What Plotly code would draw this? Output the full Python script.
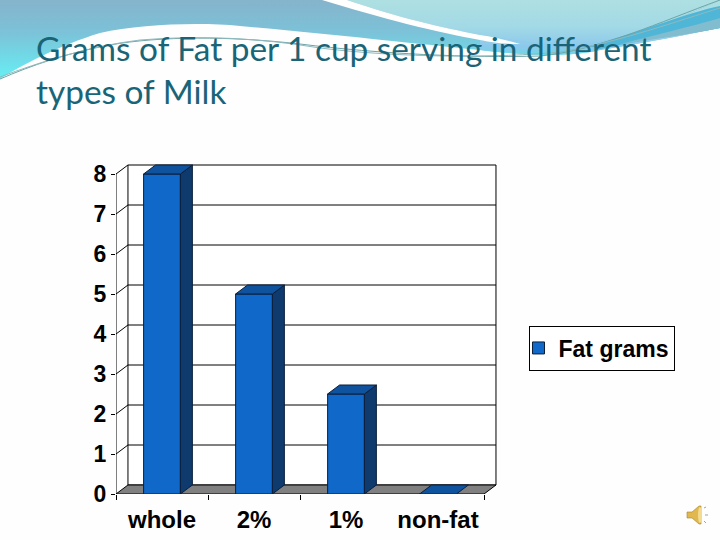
import base64
import plotly.graph_objects as go

categories = ["whole", "2%", "1%", "non-fat"]
fat_grams = [8, 5, 2.5, 0]
y_ticks = [0, 1, 2, 3, 4, 5, 6, 7, 8]
x_tick_marks = [-0.5, 0.5, 1.5, 3.5]

BLUE = "#1068c8"
TOP = "#0f539e"
SIDE = "#0e3a6e"
EDGE = "#0a1f3c"
bar_w = 0.4
# depth of the fake 3d box, in axis units
dx = 0.13
dy = 0.225
x_left = -0.5
x_right = 3.5
x_pos = list(range(len(categories)))

# slide background swoosh, no text in it
bg_svg = """<svg xmlns="http://www.w3.org/2000/svg" width="720" height="540" viewBox="0 0 720 540">
<defs>
<linearGradient id="a" gradientUnits="userSpaceOnUse" x1="0" y1="0" x2="0" y2="80">
<stop offset="0" stop-color="#85b4cc"/><stop offset=".4" stop-color="#7cc2d8"/><stop offset="1" stop-color="#66f0f5"/></linearGradient>
<linearGradient id="b" gradientUnits="userSpaceOnUse" x1="0" y1="0" x2="0" y2="55">
<stop offset="0" stop-color="#aee0e2"/><stop offset=".5" stop-color="#a2d9e6"/><stop offset=".85" stop-color="#8cc8ec"/><stop offset="1" stop-color="#6cd8e6"/></linearGradient>
</defs>
<path d="M0 79 C20 66 60 45 100 33 C140 24 200 22 240 26 C320 33 420 44 480 50 C530 56 570 57 600 50 C650 42 690 34 720 28 L720 0 L0 0 Z" fill="url(#a)"/>
<path d="M347 0 C400 18 440 27 480 35 C540 44 560 48 590 44 C640 34 690 14 720 0 Z" fill="url(#b)"/>
<path d="M480 50 C530 56 570 57 600 50 C650 42 690 34 720 28 L720 0 C690 14 640 34 590 44 C560 48 540 44 480 35 Z" fill="url(#b)"/>
<path d="M322 0 L347 0 C400 18 440 27 480 35 C495 37 505 40 520 44 C500 44 490 42 480 40 C440 33 380 18 322 0 Z" fill="#ffffff"/>
<path d="M590 46 C640 32 690 12 720 6 L720 28 C690 34 650 38 600 49 Z" fill="#4fb6d8"/>
<path d="M620 44 C660 34 700 24 720 18 L720 28 C690 34 650 40 620 44 Z" fill="#82bccf"/>
<path d="M0 79 C30 66 70 52 110 45 C160 36 230 36 300 44 C380 54 470 58 540 56 C600 50 660 22 720 0" fill="none" stroke="#6da5a6" stroke-width="1"/>
<path d="M0 77 C40 62 90 46 140 40 C200 35 260 38 320 48 C400 58 500 58 560 52 C620 42 680 20 720 8" fill="none" stroke="#8fb9bd" stroke-width="1"/>
<g transform="translate(687 505)">
<path d="M0 7 L5 7 L12 1 L14 1 L14 19 L12 19 L5 13 L0 13 Z" fill="#e0b84e" stroke="#a8842c" stroke-width=".6"/>
<ellipse cx="13" cy="10" rx="2" ry="8" fill="#f3dc92"/>
<path d="M17 3 L19 2 M18 10 L21 10 M17 16 L19 18" stroke="#8a8a8a" stroke-width=".8"/>
</g>
</svg>"""
bg_uri = "data:image/svg+xml;base64," + base64.b64encode(bg_svg.encode()).decode()

fig = go.Figure()

# front faces
fig.add_trace(go.Bar(x=x_pos, y=fat_grams, width=bar_w, name="Fat grams",
                     marker=dict(color=BLUE, line=dict(color=EDGE, width=1))))

# side and top faces worked out from the same values
side_x, side_y, top_x, top_y = [], [], [], []
for x, v in zip(x_pos, fat_grams):
    xl = x - bar_w / 2
    xr = x + bar_w / 2
    if v > 0:
        side_x += [xr, xr + dx, xr + dx, xr, xr, None]
        side_y += [0, dy, v + dy, v, 0, None]
    top_x += [xl, xl + dx, xr + dx, xr, xl, None]
    top_y += [v, v + dy, v + dy, v, v, None]
fig.add_trace(go.Scatter(x=side_x, y=side_y, mode="lines", fill="toself", fillcolor=SIDE,
                         line=dict(color=EDGE, width=1), showlegend=False, hoverinfo="skip"))
fig.add_trace(go.Scatter(x=top_x, y=top_y, mode="lines", fill="toself", fillcolor=TOP,
                         line=dict(color=EDGE, width=1), showlegend=False, hoverinfo="skip"))

# left edge of the box, has to sit on the axis so no clipping
fig.add_trace(go.Scatter(x=[x_left, x_left], y=[0, max(y_ticks)], mode="lines", cliponaxis=False,
                         line=dict(color="black", width=1), showlegend=False, hoverinfo="skip"))

shapes = []
# back wall
shapes.append(dict(type="rect", xref="x", yref="y", x0=x_left + dx, x1=x_right + dx,
                   y0=dy, y1=max(y_ticks) + dy, fillcolor="white",
                   line=dict(color="black", width=1), layer="below"))
for k in y_ticks:
    if 0 < k < max(y_ticks):
        shapes.append(dict(type="line", xref="x", yref="y", x0=x_left + dx, x1=x_right + dx,
                           y0=k + dy, y1=k + dy, line=dict(color="black", width=1), layer="below"))
    if k > 0:
        shapes.append(dict(type="line", xref="x", yref="y", x0=x_left, x1=x_left + dx,
                           y0=k, y1=k + dy, line=dict(color="black", width=1), layer="below"))
# floor
shapes.append(dict(type="path", xref="x", yref="y",
                   path="M {} 0 L {} 0 L {} {} L {} {} Z".format(x_left, x_right, x_right + dx, dy, x_left + dx, dy),
                   fillcolor="#808080", line=dict(color="black", width=1), layer="below"))

fig.update_layout(
    width=720, height=540,
    margin=dict(l=116, r=222, t=163, b=46, pad=0, autoexpand=False),
    paper_bgcolor="#fefefe",
    plot_bgcolor="rgba(0,0,0,0)",
    shapes=shapes,
    images=[dict(source=bg_uri, xref="paper", yref="paper",
                 x=-116 / 382, y=1 + 163 / 331, sizex=720 / 382, sizey=540 / 331,
                 xanchor="left", yanchor="top", sizing="stretch", layer="below")],
    title=dict(text="Grams of Fat per 1 cup serving in different<br>types of Milk",
               x=36 / 720, xanchor="left", y=1 - 61 / 540, yanchor="top",
               font=dict(family="Lato", size=33.4, color="#1a6478")),
    showlegend=True,
    legend=dict(x=(528.5 - 116) / 382, xanchor="left", y=(494 - 348) / 331, yanchor="middle",
                indentation=-11,
                bgcolor="white", bordercolor="black", borderwidth=1,
                font=dict(family="Liberation Sans", size=23, color="black", weight=700)),
    bargap=0.6,
)
fig.update_xaxes(range=[x_left, x_right + dx + 0.022], tickmode="array", tickvals=x_pos, ticktext=categories,
                 ticks="", showgrid=False, zeroline=False, showline=False, automargin=False,
                 ticklabelstandoff=9,
                 minor=dict(tickmode="array", tickvals=x_tick_marks, ticks="outside", ticklen=5,
                            tickcolor="black", tickwidth=1, showgrid=False),
                 tickfont=dict(family="Liberation Sans", size=24, color="black", weight=700))
fig.update_yaxes(range=[0, max(y_ticks) + dy + 0.05], tickmode="array", tickvals=y_ticks,
                 ticks="outside", ticklen=4, tickcolor="black", tickwidth=1,
                 showgrid=False, zeroline=False, showline=False, automargin=False,
                 tickfont=dict(family="Liberation Sans", size=23, color="black", weight=700))

fig.write_html("out.html", config={"displayModeBar": False}, post_script="document.body.style.margin='0';")
